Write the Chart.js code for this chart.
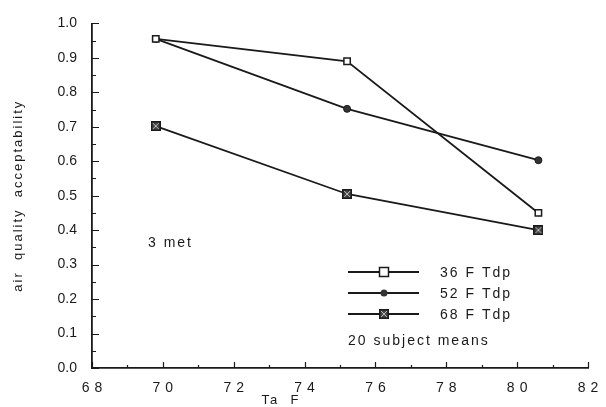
<!DOCTYPE html>
<html>
<head>
<meta charset="utf-8">
<script src="https://cdn.jsdelivr.net/npm/chart.js@4/dist/chart.umd.min.js"></script>
<style>
  html, body { margin: 0; padding: 0; background: #fff; }
  #wrap { width: 606px; height: 407px; }
</style>
</head>
<body>
<div id="wrap"><canvas id="chart" width="606" height="407"></canvas></div>
<script>
// Air temperature (F) at which each condition was tested
const taValues = [69.8, 75.2, 80.6];

// Mean air quality acceptability per dew point
const tdp36 = [0.955, 0.89, 0.45];
const tdp52 = [0.955, 0.752, 0.603];
const tdp68 = [0.702, 0.505, 0.40];

const seriesLabels = ['36 F Tdp', '52 F Tdp', '68 F Tdp'];
const xTicks = [68, 70, 72, 74, 76, 78, 80, 82];
const yTicks = [0, 0.1, 0.2, 0.3, 0.4, 0.5, 0.6, 0.7, 0.8, 0.9, 1.0];

const FONT = "'Liberation Sans', Arial, sans-serif";
const INK = '#1a1a1a';

function toPoints(ys) {
    return ys.map((y, i) => ({ x: taValues[i], y: y }));
}

/**
 * Hatched square marker used for the 68 F series
 */
function hatchedSquare() {
    const c = document.createElement('canvas');
    c.width = 10; c.height = 10;
    const g = c.getContext('2d');
    g.fillStyle = '#444';
    g.fillRect(0, 0, 10, 10);
    g.strokeStyle = INK;
    g.lineWidth = 1.5;
    g.strokeRect(0.75, 0.75, 8.5, 8.5);
    g.strokeStyle = '#bbb';
    g.lineWidth = 1;
    g.beginPath();
    g.moveTo(2, 8); g.lineTo(8, 2);
    g.moveTo(2, 2); g.lineTo(8, 8);
    g.stroke();
    return c;
}

const hatched = hatchedSquare();

const datasets = [
    {
        label: seriesLabels[0],
        data: toPoints(tdp36),
        borderColor: INK,
        borderWidth: 1.8,
        pointStyle: 'rect',
        pointRadius: 4.5,
        pointBackgroundColor: '#fff',
        pointBorderColor: INK,
        pointBorderWidth: 1.5
    },
    {
        label: seriesLabels[1],
        data: toPoints(tdp52),
        borderColor: INK,
        borderWidth: 1.8,
        pointStyle: 'circle',
        pointRadius: 3.5,
        pointBackgroundColor: '#333',
        pointBorderColor: INK,
        pointBorderWidth: 1
    },
    {
        label: seriesLabels[2],
        data: toPoints(tdp68),
        borderColor: INK,
        borderWidth: 1.8,
        pointStyle: hatched,
        pointRadius: 5
    }
];

// Inward ticks, spaced-out tick labels, legend and text notes
const decorations = {
    id: 'decorations',
    afterDraw(chart) {
        const ctx = chart.ctx;
        const xs = chart.scales.x;
        const ys = chart.scales.y;
        const area = chart.chartArea;
        ctx.save();
        ctx.strokeStyle = INK;
        ctx.lineWidth = 1.2;
        ctx.beginPath();
        for (let v = 0; v <= 1.0001; v += 0.05) {
            const py = Math.round(ys.getPixelForValue(v)) + 0.5;
            const major = Math.abs(v * 10 - Math.round(v * 10)) < 0.01;
            ctx.moveTo(area.left, py);
            ctx.lineTo(area.left + (major ? 7 : 4), py);
        }
        for (let v = 68; v <= 82; v += 1) {
            const px = Math.round(xs.getPixelForValue(v)) + 0.5;
            const major = v % 2 === 0;
            ctx.moveTo(px, area.bottom);
            ctx.lineTo(px, area.bottom - (major ? 6 : 3));
        }
        ctx.stroke();

        ctx.fillStyle = INK;
        ctx.textBaseline = 'middle';

        // x tick labels, wide digit spacing as in the original
        ctx.font = '14px ' + FONT;
        ctx.letterSpacing = '5px';
        ctx.textAlign = 'center';
        xTicks.forEach(v => {
            ctx.fillText(String(v), xs.getPixelForValue(v) + 2.5, area.bottom + 20);
        });

        // axis titles
        ctx.font = '13px ' + FONT;
        ctx.letterSpacing = '2px';
        ctx.fillText('Ta  F', 281, 400);
        ctx.save();
        ctx.translate(18, (area.top + area.bottom) / 2);
        ctx.rotate(-Math.PI / 2);
        ctx.fillText('air  quality  acceptability', 0, 0);
        ctx.restore();

        // legend
        ctx.font = '14px ' + FONT;
        ctx.letterSpacing = '2px';
        const lx0 = 348, lx1 = 419, mx = 384, rows = [272, 293, 314];
        chart.data.datasets.forEach((ds, i) => {
            const y = rows[i];
            ctx.lineWidth = 1.8;
            ctx.strokeStyle = INK;
            ctx.beginPath();
            ctx.moveTo(lx0, y);
            ctx.lineTo(lx1, y);
            ctx.stroke();
            if (i === 0) {
                ctx.lineWidth = 1.5;
                ctx.fillStyle = '#fff';
                ctx.fillRect(mx - 4, y - 4, 8, 8);
                ctx.strokeRect(mx - 4.5, y - 4.5, 9, 9);
            } else if (i === 1) {
                ctx.fillStyle = '#333';
                ctx.beginPath();
                ctx.arc(mx, y, 3.5, 0, Math.PI * 2);
                ctx.fill();
            } else {
                ctx.drawImage(ds.pointStyle, mx - 5, y - 5);
            }
            ctx.fillStyle = INK;
            ctx.textAlign = 'left';
            ctx.fillText(ds.label, 440, y + 1);
        });

        ctx.textAlign = 'left';
        ctx.fillText('20 subject means', 348, 341);
        ctx.fillText('3 met', 148, 243);
        ctx.restore();
    }
};

new Chart(document.getElementById('chart').getContext('2d'), {
    type: 'line',
    data: { datasets: datasets },
    options: {
        responsive: false,
        animation: false,
        layout: { padding: { top: 22, right: 18, left: 8, bottom: 0 } },
        plugins: {
            legend: { display: false },
            tooltip: { enabled: false }
        },
        scales: {
            x: {
                type: 'linear',
                min: 68,
                max: 82,
                afterBuildTicks(scale) {
                    scale.ticks = xTicks.map(v => ({ value: v }));
                },
                afterFit(scale) { scale.height = 39; },
                grid: { display: false, drawTicks: false },
                border: { display: true, color: INK, width: 1.8 },
                ticks: { display: false }
            },
            y: {
                min: 0,
                max: 1.0,
                afterBuildTicks(scale) {
                    scale.ticks = yTicks.map(v => ({ value: v }));
                },
                afterFit(scale) { scale.width = 84; },
                grid: { display: false, drawTicks: false },
                border: { display: true, color: INK, width: 1.8 },
                ticks: {
                    padding: 15,
                    color: INK,
                    font: { family: FONT, size: 14 },
                    callback: v => v.toFixed(1)
                }
            }
        }
    },
    plugins: [decorations]
});
</script>
</body>
</html>
